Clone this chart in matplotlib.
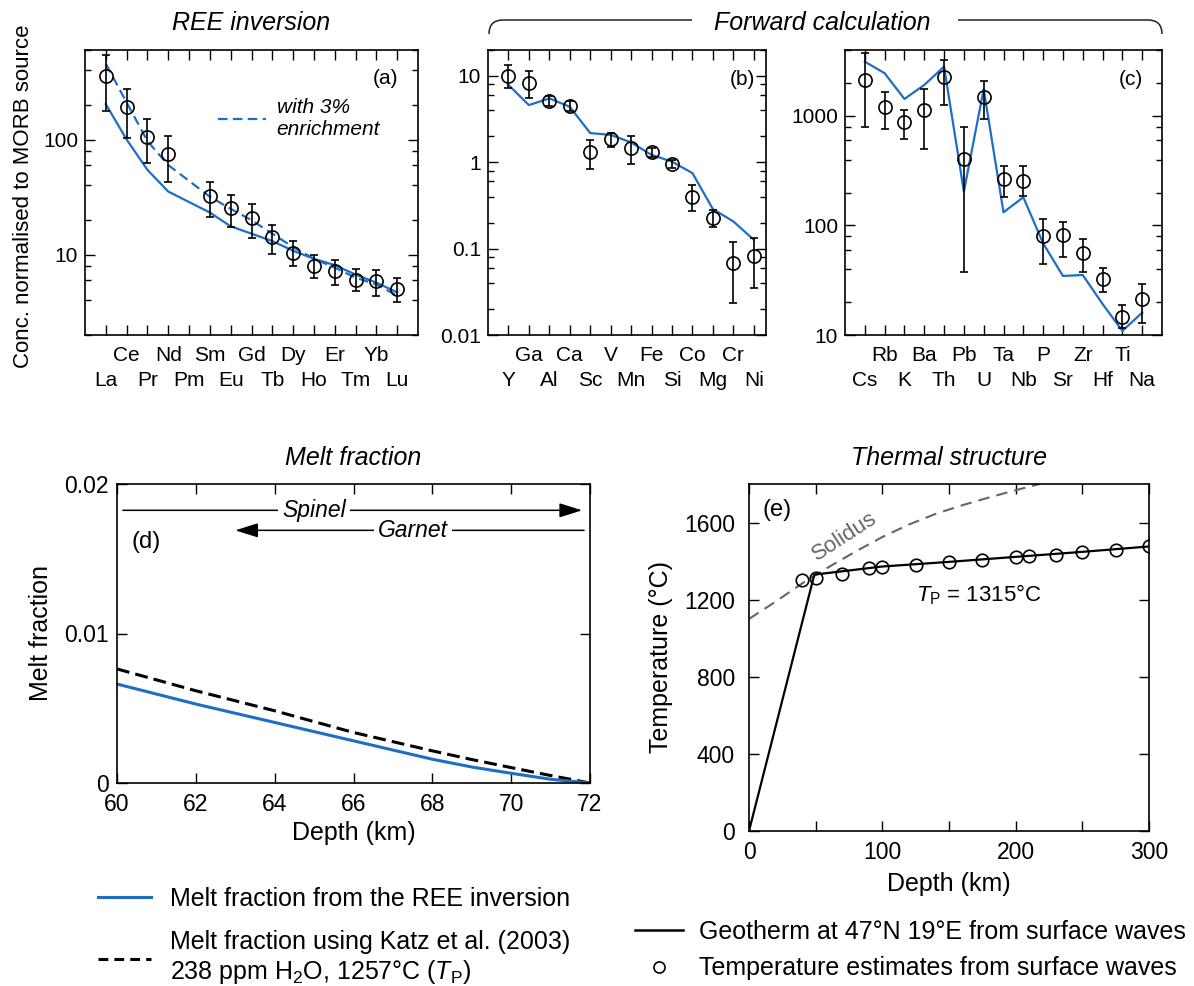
import matplotlib
matplotlib.use("Agg")
import numpy as np
import matplotlib.pyplot as plt
from matplotlib.ticker import LogLocator, NullFormatter
from matplotlib.lines import Line2D
from matplotlib.path import Path
from matplotlib.patches import PathPatch

plt.rcParams['font.family'] = ['Liberation Sans', 'DejaVu Sans']
plt.rcParams['mathtext.fontset'] = 'custom'
plt.rcParams['mathtext.rm'] = 'Liberation Sans'
plt.rcParams['mathtext.it'] = 'Liberation Sans:italic'

BLUE = '#1f6ec6'

# (a) REE inversion
ree_labels = ['La', 'Ce', 'Pr', 'Nd', 'Pm', 'Sm', 'Eu', 'Gd', 'Tb', 'Dy', 'Ho', 'Er', 'Tm', 'Yb', 'Lu']
ree_used = ['La', 'Ce', 'Pr', 'Nd', 'Sm', 'Eu', 'Gd', 'Tb', 'Dy', 'Ho', 'Er', 'Tm', 'Yb', 'Lu']
ree_obs = [359, 190, 106, 75, 32.3, 25.2, 20.6, 14.2, 10.4, 8.0, 7.2, 6.0, 5.9, 5.0]
ree_hi = [539, 275, 150, 107, 43, 33, 27.3, 17.9, 13.1, 10.0, 9.0, 7.5, 7.35, 6.2]
ree_lo = [177, 103, 62.5, 43, 21.2, 17.4, 13.9, 10.1, 7.9, 6.2, 5.4, 4.8, 4.4, 3.9]
ree_model = [203, 100, 54.5, 35.3, 23.2, 17.6, 15.2, 13.1, 10.8, 9.2, 8.1, 6.7, 5.7, 4.7]
ree_enriched = [455, 210, 97, 60, 31.8, 25, 19.9, 15.2, 11.6, 9.2, 7.7, 6.3, 5.5, 4.4]

# (b) forward calculation, compatible-ish elements
b_labels = ['Y', 'Ga', 'Al', 'Ca', 'Sc', 'V', 'Mn', 'Fe', 'Si', 'Co', 'Mg', 'Cr', 'Ni']
b_obs = [10, 8.4, 5.1, 4.5, 1.33, 1.85, 1.48, 1.30, 0.95, 0.40, 0.226, 0.068, 0.083]
b_hi = [13.4, 11.4, 5.8, 5.2, 1.82, 2.18, 2.02, 1.46, 1.07, 0.55, 0.278, 0.121, 0.133]
b_lo = [7.2, 5.5, 4.5, 3.9, 0.83, 1.52, 0.95, 1.15, 0.86, 0.27, 0.178, 0.0236, 0.035]
b_model = [7.9, 4.6, 5.5, 4.4, 2.18, 2.08, 1.7, 1.22, 1.02, 0.75, 0.288, 0.207, 0.127]

# (c) forward calculation, incompatible elements
c_labels = ['Cs', 'Rb', 'K', 'Ba', 'Th', 'Pb', 'U', 'Ta', 'Nb', 'P', 'Sr', 'Zr', 'Hf', 'Ti', 'Na']
c_obs = [2130, 1200, 888, 1134, 2285, 402, 1500, 264, 257, 80, 81, 55.7, 32.4, 14.7, 21.2]
c_hi = [3740, 1667, 1134, 1754, 3245, 789, 2090, 349, 349, 114, 108, 74.8, 40.6, 18.8, 29]
c_lo = [798, 761, 616, 496, 1260, 37.8, 940, 183, 187, 44.5, 51.9, 37.8, 24.9, 11.5, 12.9]
c_model = [3130, 2455, 1429, 1918, 2820, 204, 1755, 132, 181, 68.7, 34.6, 35.3, 19.2, 10.9, 16]

# (d) melt fraction
d_depth = [60, 62, 64, 66, 68, 69, 70, 71, 72]
melt_ree = [0.00662, 0.00528, 0.00405, 0.00282, 0.00159, 0.00107, 0.00065, 0.00025, 0.0]
melt_katz = [0.00763, 0.00617, 0.00483, 0.00338, 0.00215, 0.00157, 0.00103, 0.0005, 0.0]

# (e) thermal structure
geo_depth = [0, 49, 100, 150, 200, 250, 300]
geo_temp = [0, 1330, 1372, 1396, 1422, 1448, 1476]
est_depth = [40, 50, 70, 90, 100, 125, 150, 175, 200, 210, 230, 250, 275, 300]
est_temp = [1300, 1313, 1335, 1362, 1368, 1382, 1394, 1408, 1420, 1425, 1434, 1446, 1460, 1477]
sol_depth = [0, 20, 40, 60, 80, 100, 120, 140, 160, 180, 200, 218]
sol_temp = [1100, 1190, 1285, 1370, 1450, 1525, 1590, 1645, 1690, 1730, 1768, 1800]

W, H = 1194, 986
fig = plt.figure(figsize=(W / 100, H / 100), dpi=100)


def box(l, t, r, b):
    return [l / W, 1 - b / H, (r - l) / W, (b - t) / H]


def fx(x):
    return x / W


def fy(y):
    return 1 - y / H


def style(ax, size=15, xpad=6, ypad=5):
    ax.tick_params(which='both', direction='in', top=True, right=True, width=1)
    ax.tick_params(which='major', length=7)
    ax.tick_params(which='minor', length=4)
    ax.tick_params(axis='x', labelsize=size, pad=xpad)
    ax.tick_params(axis='y', labelsize=size, pad=ypad)
    for s in ax.spines.values():
        s.set_linewidth(1.2)


def element_axis(ax, labels):
    # upper row of names on major ticks, lower row on minor ticks
    pos = np.arange(1, len(labels) + 1)
    ax.set_xticks(pos[1::2], labels[1::2])
    ax.set_xticks(pos[0::2], labels[0::2], minor=True)
    ax.set_yscale('log')


def log_minor(ax):
    ax.yaxis.set_minor_locator(LogLocator(base=10, subs=(2, 4, 6, 8)))
    ax.yaxis.set_minor_formatter(NullFormatter())


def element_ticks(ax):
    style(ax)
    ax.tick_params(axis='x', which='major', pad=8)
    ax.tick_params(axis='x', which='minor', length=7, pad=26, labelsize=15)


def obs(ax, x, v, lo, hi):
    v = np.array(v)
    err = [v - np.array(lo), np.array(hi) - v]
    ax.errorbar(x, v, yerr=err, fmt='o', mfc='none', mec='k', ecolor='k', ms=9.5,
                mew=1.2, elinewidth=1.2, capsize=3.2, capthick=1.2, zorder=3)


# panel (a)
ax_a = fig.add_axes(box(85, 50, 418, 335))
xa = [ree_labels.index(e) + 1 for e in ree_used]
ax_a.plot(xa, ree_model, color=BLUE, lw=1.6, zorder=2)
ax_a.plot(xa, ree_enriched, color=BLUE, lw=1.6, dashes=(4.3, 2.4), zorder=2,
          label='with 3%\nenrichment')
obs(ax_a, xa, ree_obs, ree_lo, ree_hi)
element_axis(ax_a, ree_labels)
ax_a.set_xlim(0, 16)
ax_a.set_ylim(2, 600)
ax_a.set_yticks([10, 100], ['10', '100'])
log_minor(ax_a)
element_ticks(ax_a)
ax_a.legend(loc='upper left', bbox_to_anchor=(0.40, 0.832), frameon=False,
            prop={'style': 'italic', 'size': 15}, handlelength=2.3, handletextpad=0.5,
            borderpad=0, borderaxespad=0)
ax_a.text(0.94, 0.90, '(a)', transform=ax_a.transAxes, ha='right', va='center', fontsize=15)

# panel (b)
ax_b = fig.add_axes(box(488, 50, 766, 335))
xb = np.arange(1, len(b_labels) + 1)
ax_b.plot(xb, b_model, color=BLUE, lw=1.6, zorder=2)
obs(ax_b, xb, b_obs, b_lo, b_hi)
element_axis(ax_b, b_labels)
ax_b.set_xlim(0, 13.6)
ax_b.set_ylim(0.01, 20)
ax_b.set_yticks([0.01, 0.1, 1, 10], ['0.01', '0.1', '1', '10'])
log_minor(ax_b)
element_ticks(ax_b)
ax_b.text(0.96, 0.895, '(b)', transform=ax_b.transAxes, ha='right', va='center', fontsize=15)

# panel (c)
ax_c = fig.add_axes(box(845, 50, 1162, 335))
xc = np.arange(1, len(c_labels) + 1)
ax_c.plot(xc, c_model, color=BLUE, lw=1.6, zorder=2)
obs(ax_c, xc, c_obs, c_lo, c_hi)
element_axis(ax_c, c_labels)
ax_c.set_xlim(0, 16)
ax_c.set_ylim(10, 4000)
ax_c.set_yticks([10, 100, 1000], ['10', '100', '1000'])
log_minor(ax_c)
element_ticks(ax_c)
ax_c.text(0.94, 0.898, '(c)', transform=ax_c.transAxes, ha='right', va='center', fontsize=15)

fig.text(fx(24), fy(196), 'Conc. normalised to MORB source', rotation=90,
         ha='center', va='center', fontsize=16)
fig.text(fx(251), fy(23), 'REE inversion', style='italic', ha='center', va='center', fontsize=18)
fig.text(fx(822), fy(23), 'Forward calculation', style='italic', ha='center', va='center', fontsize=18)

# brace over (b) and (c)
brace_l = Path([(fx(489), fy(34)), (fx(489), fy(20)), (fx(503), fy(20)), (fx(692), fy(20))],
               [Path.MOVETO, Path.CURVE3, Path.CURVE3, Path.LINETO])
brace_r = Path([(fx(958), fy(20)), (fx(1148), fy(20)), (fx(1162), fy(20)), (fx(1162), fy(34))],
               [Path.MOVETO, Path.LINETO, Path.CURVE3, Path.CURVE3])
for p in (brace_l, brace_r):
    fig.add_artist(PathPatch(p, fc='none', ec='#222222', lw=1.1, transform=fig.transFigure))

# panel (d)
ax_d = fig.add_axes(box(117, 484, 590, 783))
ax_d.plot(d_depth, melt_katz, color='k', lw=2.2, dashes=(4.2, 2.0))
ax_d.plot(d_depth, melt_ree, color=BLUE, lw=2.2)
ax_d.set_xlim(60, 72)
ax_d.set_ylim(0, 0.02)
ax_d.set_xticks(np.arange(60, 73, 2))
ax_d.set_yticks([0, 0.01, 0.02], ['0', '0.01', '0.02'])
style(ax_d, size=16.5, xpad=7, ypad=6)
ax_d.set_xlabel('Depth (km)', fontsize=18, labelpad=4)
ax_d.set_ylabel('Melt fraction', fontsize=18, labelpad=8)
ax_d.set_title('Melt fraction', style='italic', fontsize=18, pad=14)
ax_d.annotate('', xy=(71.8, 0.01824), xytext=(60.15, 0.01824),
              arrowprops=dict(arrowstyle='-|>,head_length=0.7,head_width=0.22', color='k',
                              lw=1.1, shrinkA=0, shrinkB=0, mutation_scale=20))
ax_d.annotate('', xy=(63.0, 0.0169), xytext=(71.85, 0.0169),
              arrowprops=dict(arrowstyle='-|>,head_length=0.7,head_width=0.22', color='k',
                              lw=1.1, shrinkA=0, shrinkB=0, mutation_scale=20))
ax_d.text(65.0, 0.01824, 'Spinel', style='italic', fontsize=16.5, ha='center', va='center',
          bbox=dict(fc='white', ec='none', pad=3))
ax_d.text(67.5, 0.0169, 'Garnet', style='italic', fontsize=16.5, ha='center', va='center',
          bbox=dict(fc='white', ec='none', pad=3))
ax_d.text(0.03, 0.807, '(d)', transform=ax_d.transAxes, ha='left', va='center', fontsize=17)

# panel (e)
ax_e = fig.add_axes(box(749, 484, 1149, 831))
ax_e.plot(sol_depth, sol_temp, color='#666666', lw=1.5, dashes=(5.5, 3.4))
ax_e.plot(geo_depth, geo_temp, color='k', lw=1.6)
ax_e.plot(est_depth, est_temp, 'o', mfc='none', mec='k', ms=9, mew=1.2)
ax_e.set_xlim(0, 300)
ax_e.set_ylim(0, 1800)
ax_e.set_xticks(np.arange(0, 301, 50), ['0', '', '100', '', '200', '', '300'])
ax_e.set_yticks(np.arange(0, 1601, 400))
style(ax_e, size=16.5, xpad=7, ypad=10)
ax_e.set_xlabel('Depth (km)', fontsize=18, labelpad=6)
ax_e.set_ylabel('Temperature (°C)', fontsize=18, labelpad=8)
ax_e.set_title('Thermal structure', style='italic', fontsize=18, pad=14)
ax_e.text(72, 1530, 'Solidus', color='#666666', fontsize=16, rotation=33,
          ha='center', va='center')
ax_e.text(125, 1226, r'$T_{\rm P}$ = 1315°C', fontsize=16, ha='left', va='center')
ax_e.text(0.033, 0.925, '(e)', transform=ax_e.transAxes, ha='left', va='center', fontsize=17)

# legends below the lower panels
leg_d = [Line2D([], [], color=BLUE, lw=2.2),
         Line2D([], [], color='k', lw=2.2, dashes=(3.2, 2.0))]
fig.legend(leg_d, ['Melt fraction from the REE inversion',
                   'Melt fraction using Katz et al. (2003)\n238 ppm H$_2$O, 1257°C ($T_{\\rm P}$)'],
           loc='upper left', bbox_to_anchor=(fx(98), fy(887)), frameon=False, fontsize=18,
           handlelength=2.1, handletextpad=0.8, labelspacing=0.75, borderpad=0, borderaxespad=0)

leg_e = [Line2D([], [], color='k', lw=1.8),
         Line2D([], [], ls='none', marker='o', mfc='none', mec='k', ms=8, mew=1.2)]
fig.legend(leg_e, ['Geotherm at 47°N 19°E from surface waves',
                   'Temperature estimates from surface waves'],
           loc='upper left', bbox_to_anchor=(fx(635), fy(920)), frameon=False, fontsize=18,
           handlelength=1.9, handletextpad=0.65, labelspacing=0.5, borderpad=0, borderaxespad=0,
           numpoints=1)

fig.savefig('out.png', dpi=100)
